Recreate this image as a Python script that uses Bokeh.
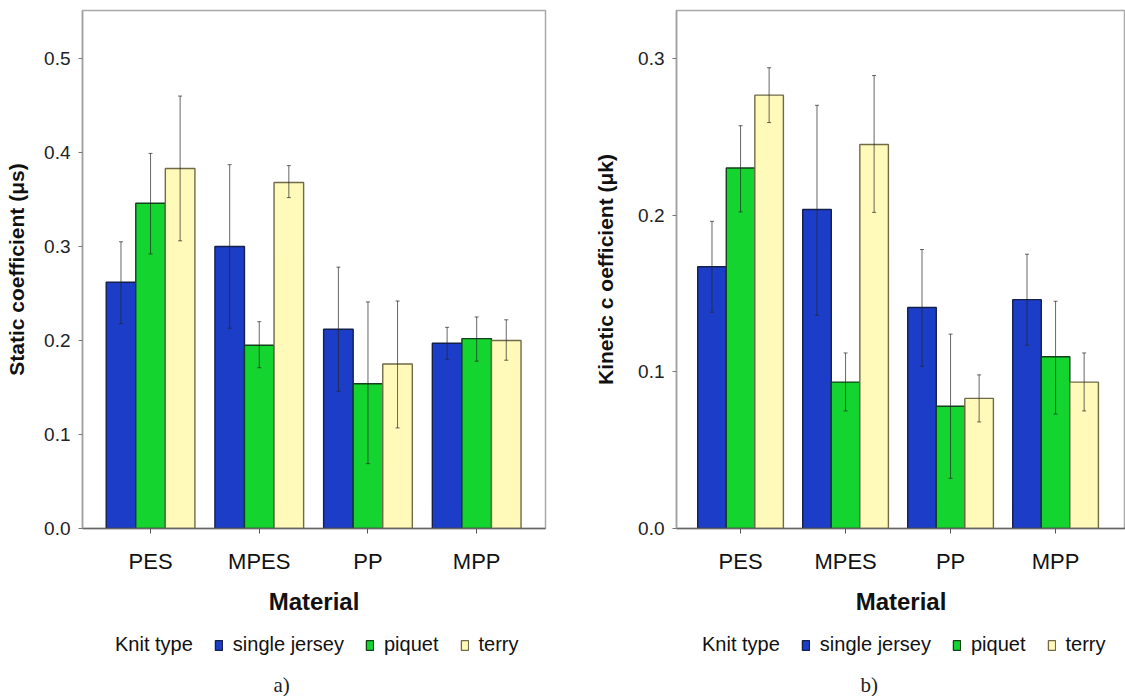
import numpy as np
from bokeh.plotting import figure
from bokeh.models import (ColumnDataSource, Range1d, FixedTicker, PrintfTickFormatter,
                          Whisker, TeeHead, Legend, LegendItem, Label)
from bokeh.layouts import row, column
from bokeh.embed import file_html
from bokeh.resources import INLINE

# ---------------- data ----------------
materials = ["PES", "MPES", "PP", "MPP"]
knit_types = ["single jersey", "piquet", "terry"]
legend_heading = "Knit type"

# static coefficient (mu_s)
static_sj = [0.262, 0.300, 0.212, 0.197]
static_sj_low = [0.218, 0.213, 0.146, 0.180]
static_sj_high = [0.305, 0.387, 0.278, 0.214]
static_pq = [0.346, 0.195, 0.154, 0.202]
static_pq_low = [0.292, 0.171, 0.069, 0.178]
static_pq_high = [0.399, 0.220, 0.241, 0.225]
static_tr = [0.383, 0.368, 0.175, 0.200]
static_tr_low = [0.306, 0.352, 0.107, 0.179]
static_tr_high = [0.460, 0.386, 0.242, 0.222]

# kinetic coefficient (mu_k)
kin_sj = [0.167, 0.2035, 0.141, 0.146]
kin_sj_low = [0.138, 0.136, 0.1035, 0.117]
kin_sj_high = [0.196, 0.270, 0.178, 0.175]
kin_pq = [0.230, 0.0934, 0.078, 0.1096]
kin_pq_low = [0.202, 0.075, 0.032, 0.073]
kin_pq_high = [0.257, 0.112, 0.124, 0.145]
kin_tr = [0.2765, 0.245, 0.083, 0.0934]
kin_tr_low = [0.259, 0.2017, 0.068, 0.075]
kin_tr_high = [0.294, 0.289, 0.098, 0.112]

static_ticks = [0.0, 0.1, 0.2, 0.3, 0.4, 0.5]
kinetic_ticks = [0.0, 0.1, 0.2, 0.3]

# ---------------- style ----------------
FILL = ["#1b3dc8", "#14d52f", "#fffab9"]
EDGE = ["#15204a", "#12401a", "#6f6a48"]
FONT = "Liberation Sans"
BAR_W = 0.272
CHART_H = 617
LEG_H = 696 - CHART_H


def chart(series, ylabel, ticks, y_end, width, bl, br, bt, x_start, x_end):
    p = figure(width=width, height=CHART_H, output_backend="svg", toolbar_location=None,
               x_range=Range1d(x_start, x_end), y_range=Range1d(0, y_end),
               min_border_left=bl, min_border_right=br, min_border_top=bt,
               min_border_bottom=84)
    p.grid.visible = False
    p.outline_line_color = "#a9a9a9"
    p.outline_line_width = 1.5
    p.background_fill_color = "white"
    p.border_fill_color = "white"

    base = np.arange(1, len(materials) + 1)
    offsets = [-BAR_W, 0.0, BAR_W]
    sources = []
    for i, (mean, low, high) in enumerate(series):
        src = ColumnDataSource(dict(x=base + offsets[i], top=mean, lower=low,
                                    upper=high, material=materials))
        sources.append(src)
        p.vbar(x="x", top="top", bottom=0, width=BAR_W, source=src,
               fill_color=FILL[i], line_color=EDGE[i], line_width=1.4)
        w = Whisker(base="x", lower="lower", upper="upper", source=src, level="overlay",
                    line_color="#262626", line_alpha=0.7, line_width=1,
                    upper_head=TeeHead(size=4, line_color="#262626", line_alpha=0.7),
                    lower_head=TeeHead(size=4, line_color="#262626", line_alpha=0.7))
        p.add_layout(w)

    xa = p.xaxis[0]
    xa.ticker = FixedTicker(ticks=list(range(1, len(materials) + 1)))
    xa.major_label_overrides = {i + 1: m for i, m in enumerate(materials)}
    xa.minor_tick_line_color = None
    xa.major_tick_in = 0
    xa.major_tick_out = 5
    xa.major_tick_line_color = "#555555"
    xa.axis_line_color = "#666666"
    xa.axis_line_width = 1.5
    xa.major_label_text_font = FONT
    xa.major_label_text_font_size = "22px"
    xa.major_label_text_color = "#111111"
    xa.major_label_standoff = 15
    xa.axis_label = "Material"
    xa.axis_label_text_font = FONT
    xa.axis_label_text_font_size = "24px"
    xa.axis_label_text_font_style = "bold"
    xa.axis_label_text_color = "#111111"
    xa.axis_label_standoff = 11

    ya = p.yaxis[0]
    ya.ticker = FixedTicker(ticks=ticks)
    ya.formatter = PrintfTickFormatter(format="%.1f")
    ya.minor_tick_line_color = None
    ya.major_tick_in = 0
    ya.major_tick_out = 4
    ya.major_tick_line_color = "#777777"
    ya.axis_line_color = "#a0a0a0"
    ya.axis_line_width = 1.5
    ya.major_label_text_font = FONT
    ya.major_label_text_font_size = "19px"
    ya.major_label_text_color = "#222222"
    ya.major_label_standoff = 8
    ya.axis_label = ylabel
    ya.axis_label_text_font = FONT
    ya.axis_label_text_font_size = "21px"
    ya.axis_label_text_font_style = "bold"
    ya.axis_label_text_color = "#111111"
    ya.axis_label_standoff = 13
    return p, sources


def legend_strip(width, sources, legend_x, caption, cap_x):
    q = figure(width=width, height=LEG_H, output_backend="svg", toolbar_location=None,
               x_range=Range1d(0, 1), y_range=Range1d(0, 1),
               min_border=0, outline_line_color=None)
    q.axis.visible = False
    q.grid.visible = False
    q.background_fill_color = "white"
    q.border_fill_color = "white"
    head = q.vbar(x="x", top="top", width=BAR_W, source=sources[0],
                  fill_alpha=0, line_alpha=0, visible=False)
    items = [LegendItem(label=legend_heading, renderers=[head])]
    for i, name in enumerate(knit_types):
        r = q.vbar(x="x", top="top", width=BAR_W, source=sources[i],
                   fill_color=FILL[i], line_color=EDGE[i], line_width=1.3,
                   visible=False)
        items.append(LegendItem(label=name, renderers=[r]))
    leg = Legend(items=items, orientation="horizontal", location=(legend_x, 40),
                 border_line_color=None, background_fill_alpha=0, margin=0,
                 padding=2, label_text_font=FONT, label_text_font_size="20px",
                 label_text_color="#111111", glyph_width=9, glyph_height=12,
                 label_standoff=10, spacing=21, inactive_fill_alpha=0)
    q.add_layout(leg)
    q.add_layout(Label(x=cap_x, y=12, x_units="screen", y_units="screen", text=caption,
                       text_font="Liberation Serif", text_font_size="21px",
                       text_color="#222222", text_baseline="middle", text_align="left"))
    return q


p1, s1 = chart([(static_sj, static_sj_low, static_sj_high),
                (static_pq, static_pq_low, static_pq_high),
                (static_tr, static_tr_low, static_tr_high)],
               "Static coefficient (μs)", static_ticks, 0.551,
               width=590, bl=82, br=45, bt=10, x_start=0.374, x_end=4.633)

p2, s2 = chart([(kin_sj, kin_sj_low, kin_sj_high),
                (kin_pq, kin_pq_low, kin_pq_high),
                (kin_tr, kin_tr_low, kin_tr_high)],
               "Kinetic c oefficient (μk)", kinetic_ticks, 0.3305,
               width=535, bl=86, br=0, bt=6, x_start=0.390, x_end=4.666)
p2.yaxis[0].axis_label_standoff = 18

l1 = legend_strip(590, s1, 96, "a)", 273)
l2 = legend_strip(535, s2, 93, "b)", 270)

layout = column(row(p1, p2), row(l1, l2))
open("out.html", "w").write(file_html(layout, INLINE))
